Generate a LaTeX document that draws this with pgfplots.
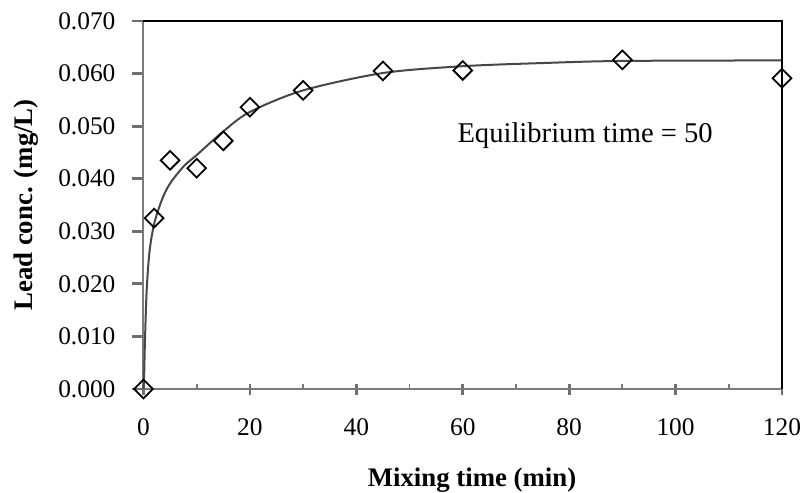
\documentclass[border=0pt]{standalone}
\usepackage{fontspec}
\setmainfont{Liberation Serif}
\usepackage{pgfplots}
\pgfplotsset{compat=1.18}
\colorlet{axgray}{black!52}
\colorlet{fitline}{black!72}
\definecolor{tickgray}{RGB}{110,110,110}

% lead concentration vs mixing time
\pgfplotstableread{
t     c
0     0.0000
2     0.0325
5     0.0435
10    0.0420
15    0.0472
20    0.0536
30    0.0568
45    0.0605
60    0.0606
90    0.0626
120   0.0591
}\measured

\pgfplotstableread{
t     c
0     0.0000
0.13  0.0030
0.28  0.0093
0.6   0.0188
1.16  0.0264
2.1   0.0318
3.7   0.0366
5.2   0.0394
7.7   0.0425
10    0.0445
15    0.0490
20    0.0527
30    0.0568
45    0.0601
60    0.0614
75    0.0620
90    0.0624
120   0.0625
}\fitted

\begin{document}
\begin{tikzpicture}
\begin{axis}[scale only axis, width=319.25pt, height=184pt,
  xmin=0, xmax=120, ymin=0, ymax=0.07,
  axis x line*=bottom, axis y line*=left,
  axis line style={draw=axgray, line width=1pt},
  xtick={0,20,...,120}, minor x tick num=1,
  ytick={0,0.01,0.02,0.03,0.04,0.05,0.06,0.07},
  scaled y ticks=false,
  yticklabel style={/pgf/number format/fixed, /pgf/number format/fixed zerofill, /pgf/number format/precision=3},
  /pgf/number format/assume math mode=true,
  tick align=outside, major tick length=5.5pt, minor tick length=2.5pt,
  every tick/.style={draw=axgray, line width=0.9pt},
  major tick style={draw=tickgray, line width=1.4pt},
  xtick style={yshift=2.5pt},
  tick label style={font=\fontsize{12.7}{15}\selectfont},
  xticklabel style={yshift=-5.8pt},
  yticklabel style={xshift=-5pt},
  xlabel={Mixing time (min)},
  ylabel={Lead conc. (mg/L)},
  every axis x label/.style={at={(axis description cs:0.5145,-0.247)}, anchor=center,
    font=\fontsize{13.4}{16}\selectfont\bfseries},
  every axis y label/.style={at={(axis description cs:-0.184,0.5)}, anchor=center, rotate=90,
    font=\fontsize{13.4}{16}\selectfont\bfseries},
  clip=false]
\addplot[fitline, line width=1pt, smooth, tension=0.5] table[x=t, y=c] {\fitted};
\addplot[only marks, mark=square, mark size=3.3pt,
  mark options={rotate=45, draw=black, line width=0.9pt, fill=none}] table[x=t, y=c] {\measured};
\draw[black, line width=0.75pt] (rel axis cs:0,1) -- (rel axis cs:1,1) -- (rel axis cs:1,0);
\node[font=\fontsize{14.3}{17}\selectfont] at (axis cs:83,0.0481) {Equilibrium time = 50};
\coordinate (bl) at (rel axis cs:0,0);
\coordinate (tr) at (rel axis cs:1,1);
\end{axis}
\pgfresetboundingbox
\path[use as bounding box] ([shift={(-71.75pt,-52pt)}]bl) rectangle ([shift={(10.5pt,10.5pt)}]tr);
\end{tikzpicture}
\end{document}
